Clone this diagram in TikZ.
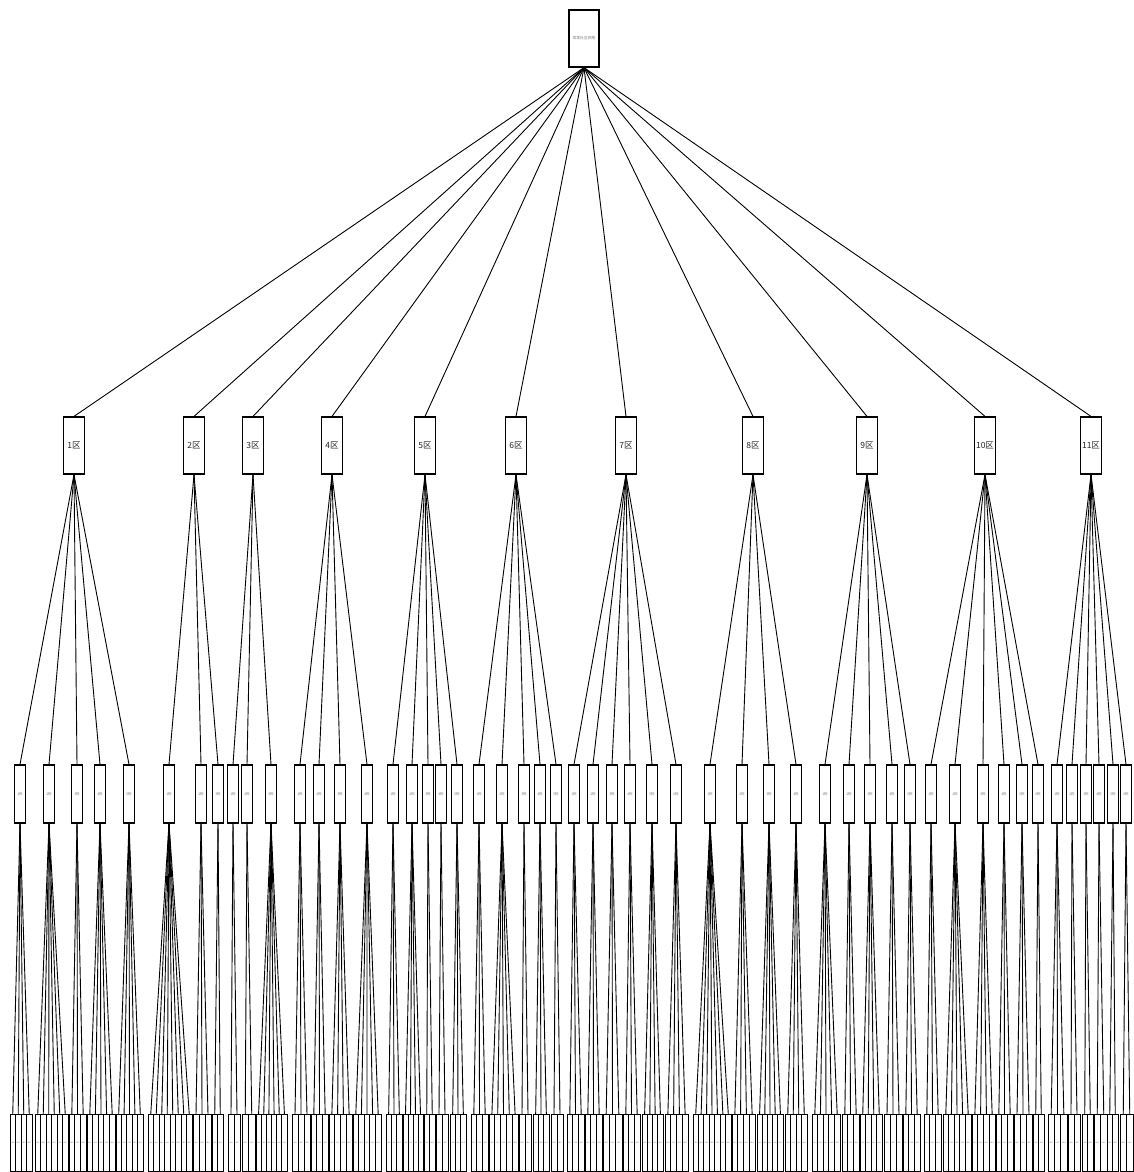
\documentclass[tikz,border=0pt]{standalone}
\usepackage{fontspec}
\newfontfamily\cjk{Noto Sans CJK SC}
\begin{document}
\begin{tikzpicture}[x=1pt,y=-1pt,
  box/.style={draw=black, line width=1.2pt, inner sep=0pt, fill=white},
  rootbox/.style={box, minimum width=30pt, minimum height=57pt, font=\cjk\fontsize{3.8}{4}\selectfont, text=gray},
  zonebox/.style={box, minimum width=21pt, minimum height=57pt, font=\cjk\fontsize{8.5}{9}\selectfont, text=black!85},
  bldbox/.style={box, minimum width=11pt, minimum height=58pt, font=\cjk\fontsize{3.5}{4}\selectfont, text=gray},
  leafbox/.style={box, line width=0.9pt, minimum height=57pt, font=\cjk\fontsize{1.6}{2}\selectfont, text=gray},
  link/.style={draw=black, line width=0.9pt}]
\useasboundingbox (0,0) rectangle (1134,1172);
\node[rootbox] (r) at (584,38.5) {某某社区网格};
\foreach \g/\x in {1/74, 2/194, 3/253, 4/332, 5/425, 6/516, 7/626, 8/753, 9/867, 10/985, 11/1091} {
  \node[zonebox] (g\g) at (\x,445.5) {\g{}区};
  \draw[link] (r.south) -- (g\g.north);
}
\foreach \k/\g/\x/\s/\e/\n/\m in {
1/1/20/10/32/4/1, 2/1/49/35/68/6/2, 3/1/77/69/86/3/3, 4/1/100/87/115/5/4, 5/1/129/116/143/5/5,
6/2/169/148/192/8/1, 7/2/201/193/211/3/2, 8/2/218/212/223/2/3,
9/3/233/228/240/2/1, 10/3/247/242/255/2/2, 11/3/271/256/287/6/3,
12/4/300/292/310/3/1, 13/4/319/311/328/3/2, 14/4/340/329/352/4/3, 15/4/367/353/381/5/4,
16/5/393/386/402/3/1, 17/5/412/403/423/4/2, 18/5/428/424/435/2/3, 19/5/441/436/448/2/4, 20/5/457/450/466/3/5,
21/6/479/471/488/3/1, 22/6/502/489/518/5/2, 23/6/524/519/531/2/3, 24/6/540/533/549/3/4, 25/6/556/551/563/2/5,
26/7/574/567/584/3/1, 27/7/593/585/602/3/2, 28/7/612/603/622/3/3, 29/7/630/623/640/3/4, 30/7/652/642/663/4/5, 31/7/676/665/688/4/6,
32/8/710/693/731/7/1, 33/8/742/732/755/4/2, 34/8/769/757/783/5/3, 35/8/796/785/807/4/4,
36/9/825/812/840/5/1, 37/9/849/842/859/3/2, 38/9/870/860/882/4/3, 39/9/892/884/902/3/4, 40/9/910/903/920/3/5,
41/10/931/924/941/3/1, 42/10/955/943/971/5/2, 43/10/983/972/995/4/3, 44/10/1004/996/1013/3/4, 45/10/1022/1014/1032/3/5, 46/10/1038/1033/1044/2/6,
47/11/1057/1048/1067/3/1, 48/11/1072/1068/1080/2/2, 49/11/1086/1082/1093/2/3, 50/11/1099/1094/1107/2/4, 51/11/1113/1107/1118/2/5, 52/11/1126/1120/1133/2/6} {
  \node[bldbox] (b\k) at (\x,794) {\m{}栋};
  \draw[link] (g\g.south) -- (b\k.north);
  \pgfmathsetmacro\w{(\e-\s)/\n}
  \foreach \i in {1,...,\n} {
    \pgfmathsetmacro\lx{\s+(\i-0.5)*\w}
    \node[leafbox, minimum width=\w pt] (l\k-\i) at (\lx,1143) {\i{}单元};
    \draw[link] (b\k.south) -- (l\k-\i.north);
  }
}
\end{tikzpicture}
\end{document}
